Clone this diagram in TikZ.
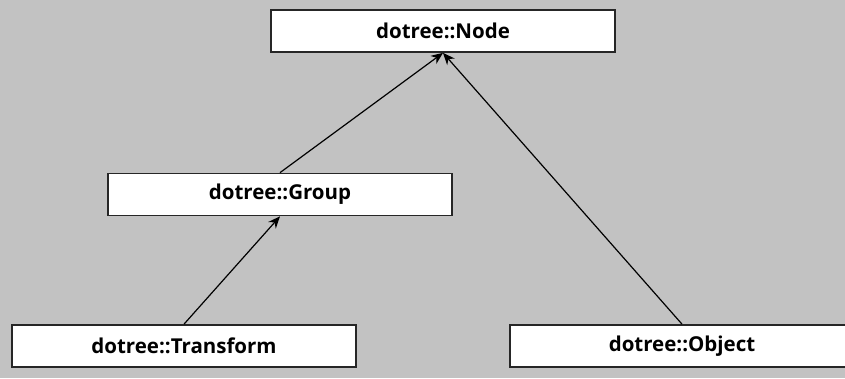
\documentclass[tikz,border=0pt]{standalone}
\usepackage{fontspec}
\setmainfont{Open Sans}
\usetikzlibrary{arrows.meta}
\begin{document}
\begin{tikzpicture}[x=1pt,y=1pt,
  classbox/.style={draw=black!85, line width=1.7pt, fill=white,
    minimum width=344pt, minimum height=42pt, inner sep=0pt,
    font=\fontsize{20.5}{22}\selectfont\bfseries},
  inherit/.style={line width=1.2pt, draw=black,
    -{Stealth[length=12pt,width=10pt]}}]
  % canvas
  \useasboundingbox (0,0) rectangle (845,378);
  \clip (0,0) rectangle (845,378);
  \fill[black!24] (0,0) rectangle (845,378);
  % class boxes
  \node[classbox] (node)      at (443,347)   {dotree::Node};
  \node[classbox] (group)     at (280,183.5) {dotree::Group};
  \node[classbox] (transform) at (184,32)    {dotree::Transform};
  \node[classbox] (object)    at (682,32)    {dotree::Object};
  % inheritance arrows
  \draw[inherit] (group.north)     -- (node.south);
  \draw[inherit] (object.north)    -- (node.south);
  \draw[inherit] (transform.north) -- (group.south);
\end{tikzpicture}
\end{document}
